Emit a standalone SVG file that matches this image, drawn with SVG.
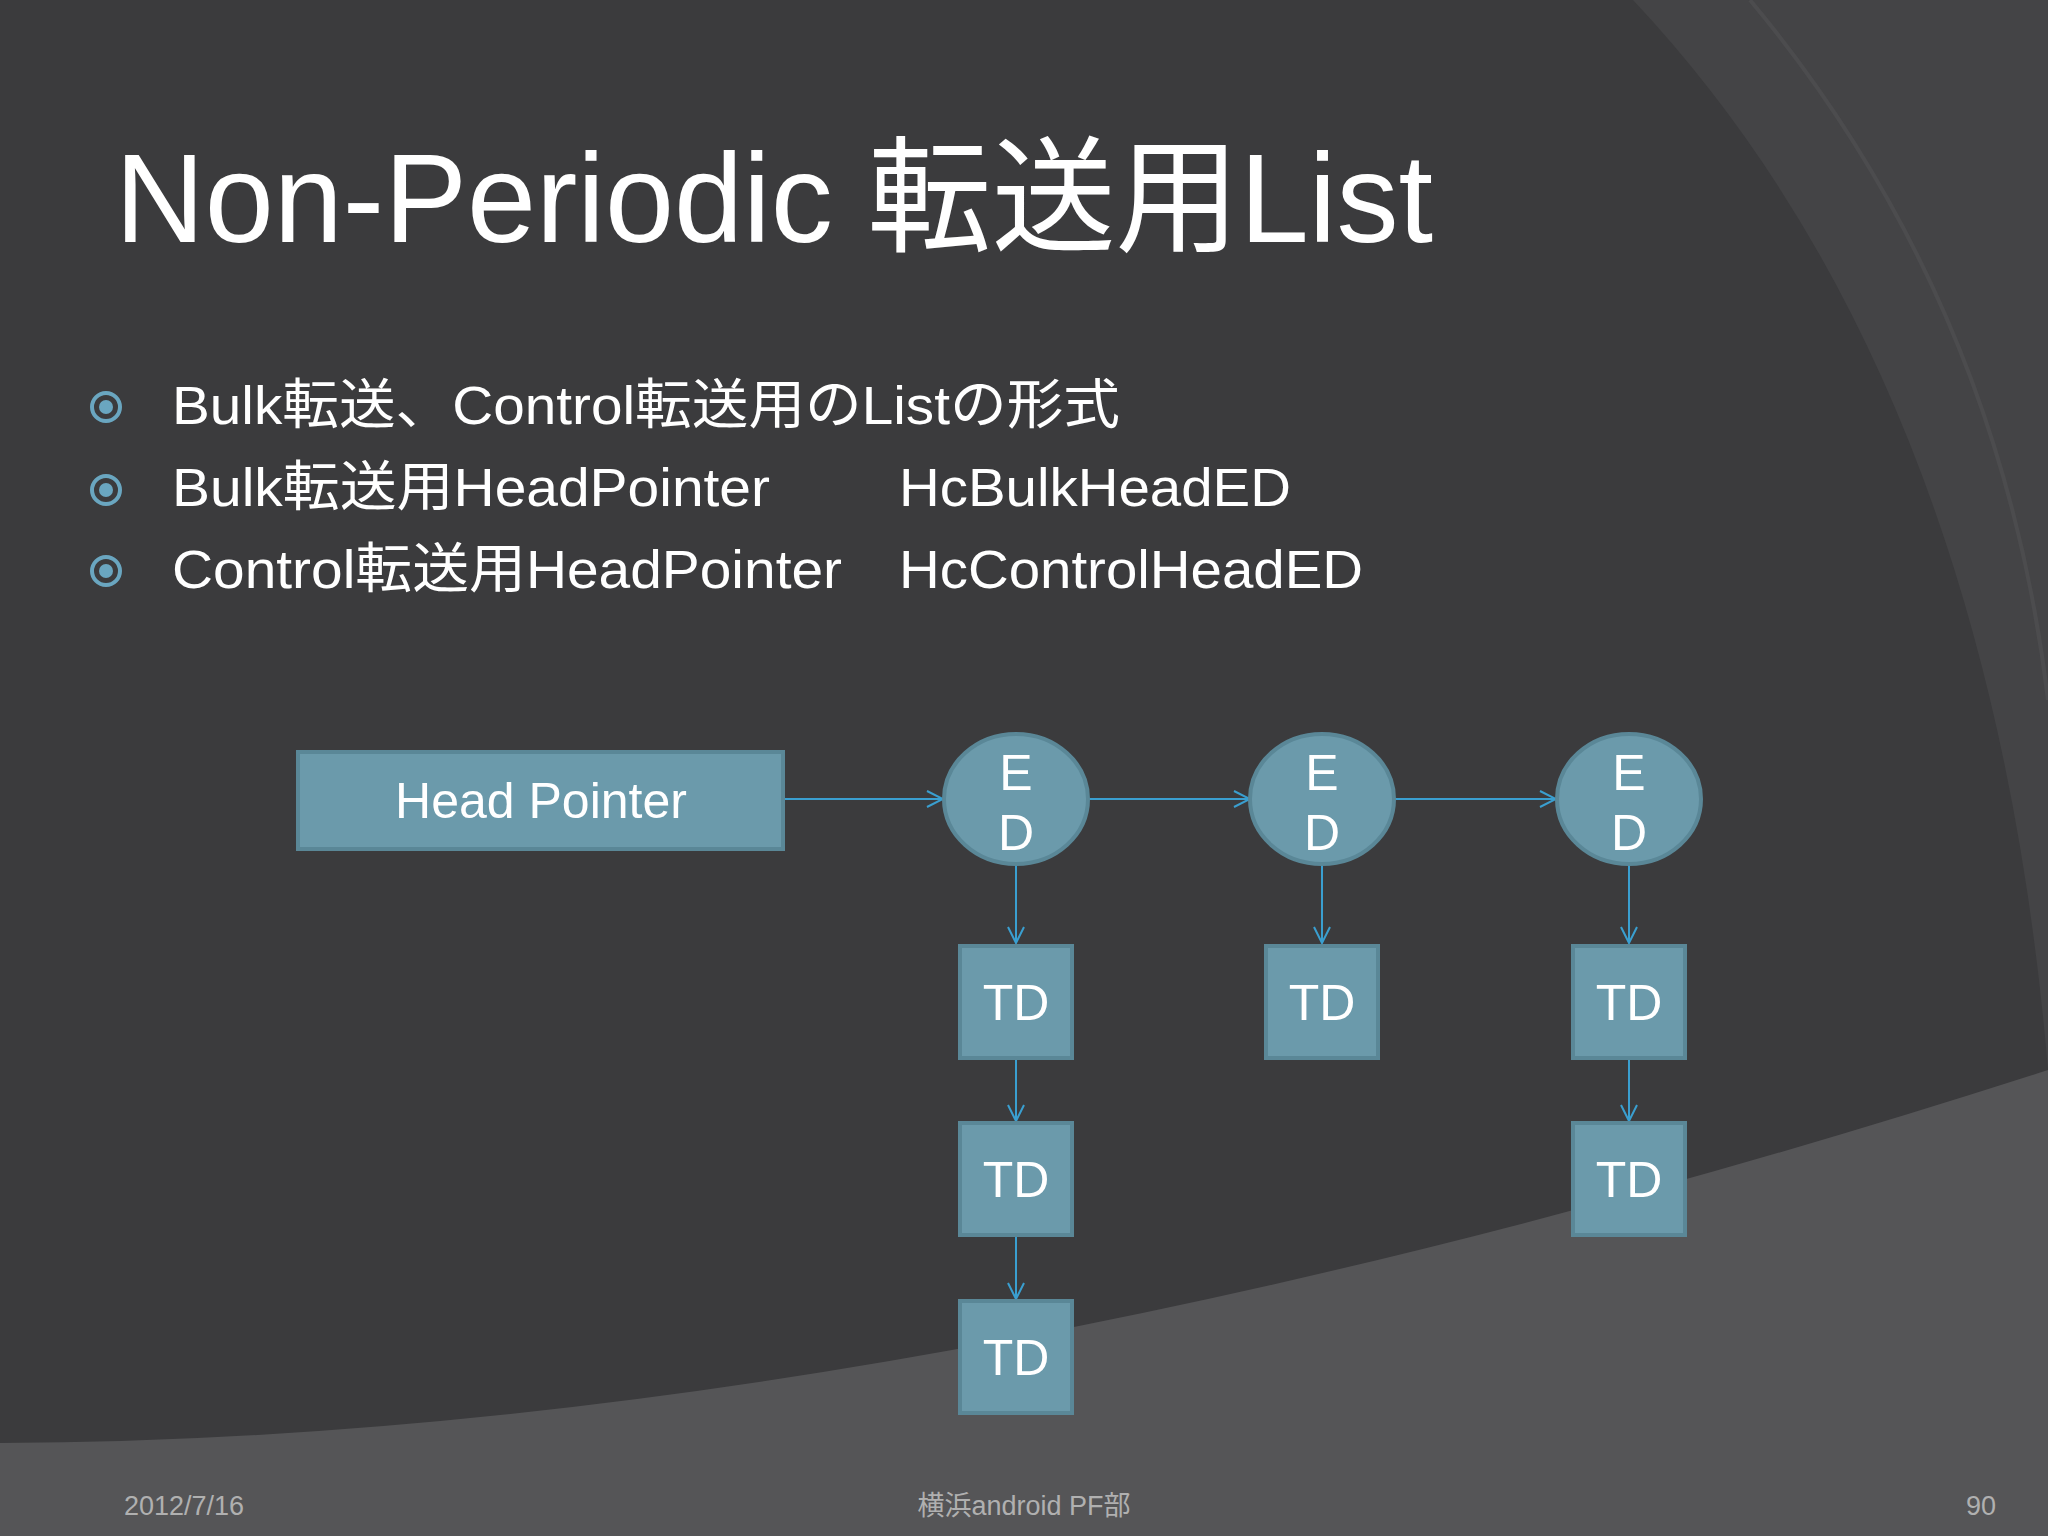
<svg xmlns="http://www.w3.org/2000/svg" width="2048" height="1536" viewBox="0 0 2048 1536">
<defs>
<style>
.t{font-family:"Liberation Sans","Noto Sans CJK JP",sans-serif;fill:#fff}
.n{fill:#6b9aab;stroke:#5a8797;stroke-width:4}
.c{stroke:#3a9fd0;stroke-width:2;fill:none;marker-end:url(#a)}
.l{font-family:"Liberation Sans",sans-serif;fill:#fff;font-size:50px;text-anchor:middle}
.f{font-family:"Liberation Sans","Noto Sans CJK JP",sans-serif;fill:#b0b0b0;font-size:27px}
</style>
<marker id="a" markerWidth="20" markerHeight="20" refX="18" refY="10" orient="auto" markerUnits="userSpaceOnUse"><path d="M2,2 L18,10 L2,18" fill="none" stroke="#3a9fd0" stroke-width="2"/></marker>
</defs>
<rect width="2048" height="1536" fill="#3b3b3d"/>
<path d="M1633,0 Q1990,380 2048,1070 L2048,0 Z" fill="#444446"/>
<path d="M1750,0 Q2000,300 2048,700" fill="none" stroke="#4c4c4e" stroke-width="4"/>
<path d="M0,1443 Q900,1440 2048,1070 L2048,1536 L0,1536 Z" fill="#555557"/>
<text class="t" x="115" y="242" font-size="126" textLength="1318" lengthAdjust="spacingAndGlyphs">Non-Periodic 転送用List</text>
<g fill="none" stroke="#6aa6c0" stroke-width="4"><circle cx="106" cy="407" r="14"/><circle cx="106" cy="490" r="14"/><circle cx="106" cy="571" r="14"/></g>
<g fill="#6aa6c0"><circle cx="106" cy="407" r="7"/><circle cx="106" cy="490" r="7"/><circle cx="106" cy="571" r="7"/></g>
<g class="t" font-size="54">
<text x="172" y="424" textLength="948" lengthAdjust="spacingAndGlyphs">Bulk転送、Control転送用のListの形式</text>
<text x="172" y="506" textLength="598" lengthAdjust="spacingAndGlyphs">Bulk転送用HeadPointer</text>
<text x="899" y="506" textLength="392" lengthAdjust="spacingAndGlyphs">HcBulkHeadED</text>
<text x="172" y="588" textLength="670" lengthAdjust="spacingAndGlyphs">Control転送用HeadPointer</text>
<text x="899" y="588" textLength="464" lengthAdjust="spacingAndGlyphs">HcControlHeadED</text>
</g>
<g id="connectors">
<line class="c" x1="784" y1="799" x2="943" y2="799"/>
<line class="c" x1="1088" y1="799" x2="1250" y2="799"/>
<line class="c" x1="1395" y1="799" x2="1556" y2="799"/>
<line class="c" x1="1016" y1="864" x2="1016" y2="943"/>
<line class="c" x1="1016" y1="1058" x2="1016" y2="1121"/>
<line class="c" x1="1016" y1="1236" x2="1016" y2="1299"/>
<line class="c" x1="1322" y1="864" x2="1322" y2="943"/>
<line class="c" x1="1629" y1="864" x2="1629" y2="943"/>
<line class="c" x1="1629" y1="1058" x2="1629" y2="1121"/>
</g>
<g id="head"><rect class="n" x="298" y="752" width="485" height="97"/><text class="l" x="541" y="818">Head Pointer</text></g>
<g id="ed1"><ellipse class="n" cx="1016" cy="799" rx="72" ry="65"/><text class="l" x="1016" y="790">E</text><text class="l" x="1016" y="850">D</text></g>
<g id="ed2"><ellipse class="n" cx="1322" cy="799" rx="72" ry="65"/><text class="l" x="1322" y="790">E</text><text class="l" x="1322" y="850">D</text></g>
<g id="ed3"><ellipse class="n" cx="1629" cy="799" rx="72" ry="65"/><text class="l" x="1629" y="790">E</text><text class="l" x="1629" y="850">D</text></g>
<g id="td11"><rect class="n" x="960" y="946" width="112" height="112"/><text class="l" x="1016" y="1020">TD</text></g>
<g id="td12"><rect class="n" x="960" y="1123" width="112" height="112"/><text class="l" x="1016" y="1197">TD</text></g>
<g id="td13"><rect class="n" x="960" y="1301" width="112" height="112"/><text class="l" x="1016" y="1375">TD</text></g>
<g id="td21"><rect class="n" x="1266" y="946" width="112" height="112"/><text class="l" x="1322" y="1020">TD</text></g>
<g id="td31"><rect class="n" x="1573" y="946" width="112" height="112"/><text class="l" x="1629" y="1020">TD</text></g>
<g id="td32"><rect class="n" x="1573" y="1123" width="112" height="112"/><text class="l" x="1629" y="1197">TD</text></g>
<text class="f" x="124" y="1515">2012/7/16</text>
<text class="f" x="1024" y="1515" text-anchor="middle">横浜android PF部</text>
<text class="f" x="1996" y="1515" text-anchor="end">90</text>
</svg>
